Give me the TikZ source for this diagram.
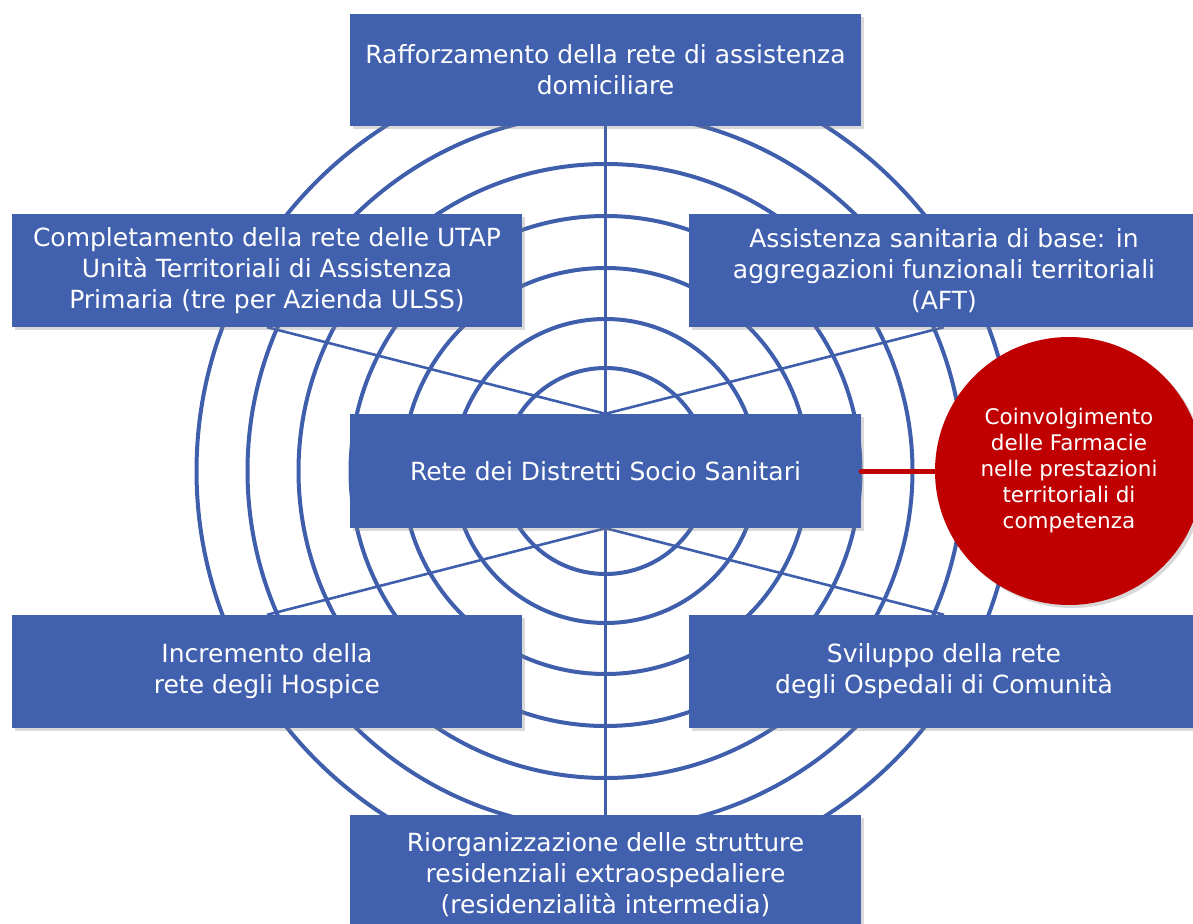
\documentclass[tikz,border=0pt]{standalone}
\usepackage{fontspec}
\setmainfont{DejaVu Sans}
\usetikzlibrary{shadows,backgrounds}
\definecolor{boxblue}{RGB}{65,96,174}
\definecolor{linkblue}{RGB}{63,94,172}
\definecolor{darkred}{RGB}{192,0,0}
\begin{document}
\begin{tikzpicture}[x=1pt,y=-1pt,
  panel/.style={fill=boxblue, text=white, inner sep=0pt, align=center,
    minimum width=511pt, minimum height=113pt,
    font=\fontsize{25}{31}\selectfont,
    drop shadow={shadow xshift=3pt, shadow yshift=-3pt, opacity=0.3}},
  ring/.style={draw=linkblue, line width=4pt},
  spoke/.style={draw=linkblue, line width=2.6pt},
  bubble/.style={circle, fill=darkred, text=white, inner sep=0pt, minimum size=268pt,
    align=center, font=\fontsize{21.5}{26}\selectfont,
    drop shadow={shadow xshift=3pt, shadow yshift=-3pt, opacity=0.3}},
  redlink/.style={draw=darkred, line width=5pt, line cap=round}]
\useasboundingbox (0,0) rectangle (1193,923);
\clip (0,0) rectangle (1193,923);

\node[panel, minimum height=112pt] (top) at (605.5,70) {Rafforzamento della rete di assistenza\\domiciliare};
\node[panel, minimum width=510pt] (tl) at (267,270.5) {Completamento della rete delle UTAP\\Unità Territoriali di Assistenza\\Primaria (tre per Azienda ULSS)};
\node[panel, minimum width=510pt] (tr) at (944,270.5) {Assistenza sanitaria di base: in\\aggregazioni funzionali territoriali\\(AFT)};
\node[panel, minimum height=114pt] (mid) at (605.5,471) {Rete dei Distretti Socio Sanitari};
\node[panel, minimum width=510pt] (bl) at (267,671.5) {Incremento della\\rete degli Hospice};
\node[panel, minimum width=510pt] (br) at (944,671.5) {Sviluppo della rete\\degli Ospedali di Comunità};
\node[panel, minimum height=120pt] (bot) at (605.5,875) {Riorganizzazione delle strutture\\residenziali extraospedaliere\\(residenzialità intermedia)};
\node[bubble] (red) at (1069,471) {\raisebox{-3pt}{\parbox{200pt}{\centering Coinvolgimento\\delle Farmacie\\nelle prestazioni\\territoriali di\\competenza}}};

\begin{pgfonlayer}{background}
  \foreach \r in {103,152,203,255,307,358,409}
    \draw[ring] (mid.center) circle[radius=\r];
  \draw[spoke] (top.south) -- (bot.north);
  \draw[spoke] (mid.north) -- (tl.south);
  \draw[spoke] (mid.north) -- (tr.south);
  \draw[spoke] (mid.south) -- (bl.north);
  \draw[spoke] (mid.south) -- (br.north);
\end{pgfonlayer}

\draw[redlink] (mid.east) -- (red.west);
\end{tikzpicture}
\end{document}
